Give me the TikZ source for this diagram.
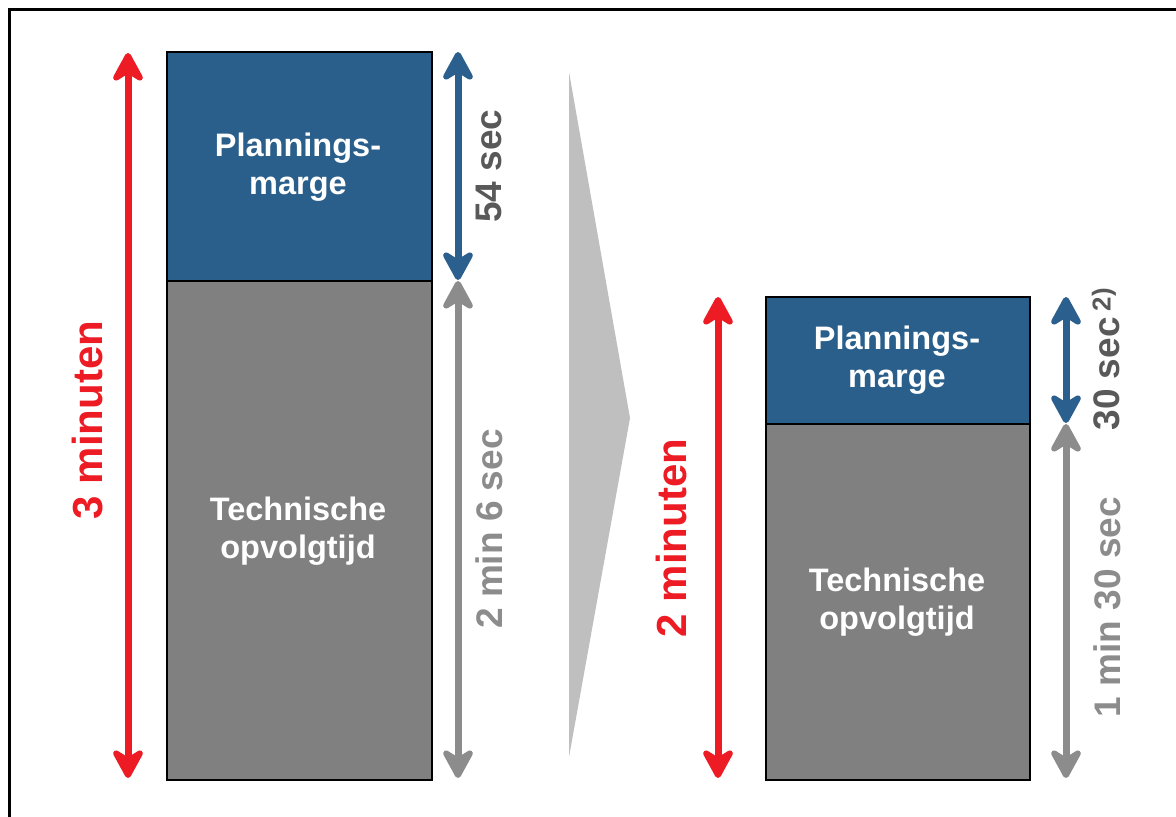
\documentclass[tikz,border=0pt]{standalone}
\usepackage{fontspec}
\setmainfont{Liberation Sans}
\usetikzlibrary{arrows.meta}
\definecolor{myblue}{HTML}{2A5F8B}
\definecolor{arrblue}{HTML}{2A5F8E}
\definecolor{boxgray}{HTML}{808080}
\definecolor{arrgray}{HTML}{8C8C8C}
\definecolor{myred}{HTML}{ED1C24}
\definecolor{darktxt}{HTML}{595959}
\definecolor{lighttxt}{HTML}{8C8C8C}
\definecolor{chev}{HTML}{BFBFBF}
\tikzset{
  bluebox/.style={draw=black, line width=2pt, fill=myblue, inner sep=0pt, anchor=north west},
  graybox/.style={draw=black, line width=2pt, fill=boxgray, inner sep=0pt, anchor=north west},
  boxtext/.style={text=white, font=\fontsize{32.5}{38}\selectfont\bfseries, align=center},
  dimarrow/.style={line width=7pt, {Stealth[length=36pt,width=39pt,inset=12pt,round]}-{Stealth[length=36pt,width=39pt,inset=12pt,round]}},
  vlabel/.style={rotate=90, font=\fontsize{37}{40}\selectfont\bfseries},
  redlabel/.style={vlabel, text=myred, font=\fontsize{42}{44}\selectfont\bfseries},
}
\begin{document}
\begin{tikzpicture}[x=1pt,y=-1pt]
\useasboundingbox (0,0) rectangle (1176,817);
% frame
\draw[line width=3pt] (9,830) -- (9,9) -- (1190,9);
% left boxes
\node[bluebox, minimum width=265pt, minimum height=229pt] (lb) at (166,51) {};
\node[graybox, minimum width=265pt, minimum height=499pt] (lg) at (166,280) {};
\node[boxtext] (lbt) at (298,167) {Plannings-\\marge};
\node[boxtext] (lgt) at (298,531) {Technische\\opvolgtijd};
% right boxes
\node[bluebox, minimum width=264pt, minimum height=127pt] (rb) at (765,296) {};
\node[graybox, minimum width=264pt, minimum height=356pt] (rg) at (765,423) {};
\node[boxtext] (rbt) at (897,360) {Plannings-\\marge};
\node[boxtext] (rgt) at (897,602) {Technische\\opvolgtijd};
% chevron
\fill[chev] (569,72) -- (630,418) -- (569,757) -- cycle;
% coordinates for arrows
\coordinate (lr1) at (128,53);
\coordinate (lr2) at (128,778);
\coordinate (lbl1) at (458,52);
\coordinate (lbl2) at (458,280);
\coordinate (lgr1) at (458,281);
\coordinate (lgr2) at (458,778);
\coordinate (rr1) at (718,297);
\coordinate (rr2) at (718,778);
\coordinate (rbl1) at (1066,297);
\coordinate (rbl2) at (1066,423);
\coordinate (rgr1) at (1066,424);
\coordinate (rgr2) at (1066,778);
\draw[dimarrow, myred] (lr1) -- (lr2);
\draw[dimarrow, arrgray] (lgr1) -- (lgr2);
\draw[dimarrow, arrblue] (lbl1) -- (lbl2);
\draw[dimarrow, myred] (rr1) -- (rr2);
\draw[dimarrow, arrgray] (rgr1) -- (rgr2);
\draw[dimarrow, arrblue] (rbl1) -- (rbl2);
% labels
\node[redlabel] (l3m) at (88,420) {3 minuten};
\node[redlabel] (l2m) at (671,538) {2 minuten};
\node[vlabel, text=darktxt] (l54) at (489,166) {54 sec};
\node[vlabel, text=lighttxt] (l26) at (489,529) {2 min 6 sec};
\node[vlabel, text=darktxt, anchor=west] (l30) at (1106,434) {30 sec\,\textsuperscript{2)}};
\node[vlabel, text=lighttxt] (l130) at (1107,607) {1 min 30 sec};
\end{tikzpicture}
\end{document}
